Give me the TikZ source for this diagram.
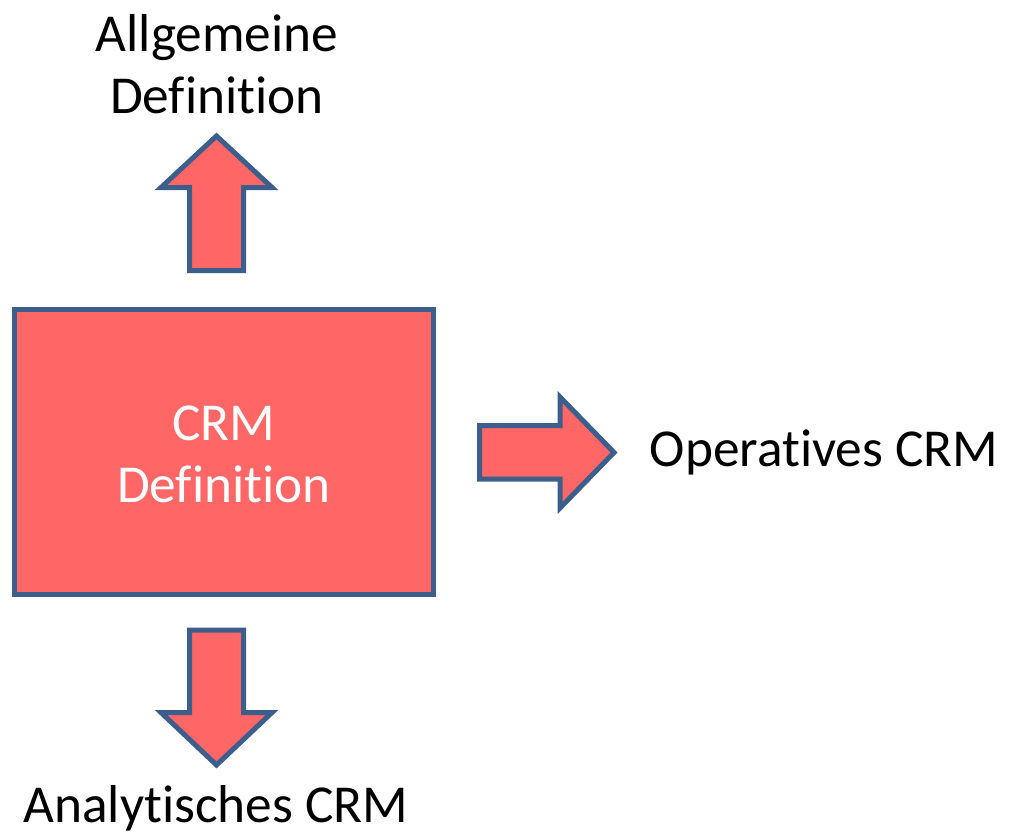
\documentclass[tikz,border=0pt]{standalone}
\usepackage{fontspec}
\setmainfont[Ligatures=NoCommon]{Carlito}
\definecolor{crmred}{HTML}{FF6666}
\definecolor{crmblue}{HTML}{3B5E8C}
\tikzset{
  blockshape/.style={fill=crmred,draw=crmblue,line width=3.75pt,line join=miter},
  label/.style={font=\fontsize{40}{46.5}\selectfont,align=center,inner sep=0pt}
}
\begin{document}
\begin{tikzpicture}[x=0.75pt,y=-0.75pt]
   \useasboundingbox (0,0) rectangle (1012,835);
   % central box
   \draw[blockshape] (14.5,309.5) rectangle (433.5,594.5);
   \node[label,text=white] (crm) at (224,454) {CRM\\Definition};
   % arrow up
   \draw[blockshape] (189.5,270.5) -- (189.5,187.5) -- (161,187.5) -- (216.5,136)
      -- (272,187.5) -- (243.5,187.5) -- (243.5,270.5) -- cycle;
   % arrow down
   \draw[blockshape] (189.5,630) -- (189.5,712.5) -- (161,712.5) -- (216.5,765)
      -- (272,712.5) -- (243.5,712.5) -- (243.5,630) -- cycle;
   % arrow right
   \draw[blockshape] (479.5,425.5) -- (560,425.5) -- (560,397) -- (614,452.5)
      -- (560,508) -- (560,479) -- (479.5,479) -- cycle;
   % labels
   \node[label] (allg) at (217,64) {Allgemeine\\Definition};
   \node[label] (oper) at (824,452) {Operatives CRM};
   \node[label] (anal) at (216,808) {Analytisches CRM};
\end{tikzpicture}
\end{document}
